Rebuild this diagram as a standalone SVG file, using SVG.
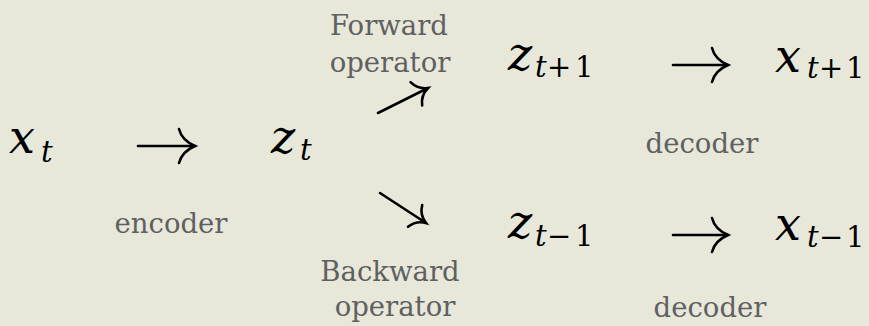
<svg xmlns="http://www.w3.org/2000/svg" width="869" height="326" viewBox="0 0 869 326">
<style>
.m{font-family:'DejaVu Serif',serif;font-style:italic;fill:#000;}
.big{font-size:46px;}
.sub{font-size:29px;}
.up{font-style:normal;}
.lbl{font-family:'DejaVu Serif',serif;font-size:27.5px;fill:#606060;}
.arr{fill:none;stroke:#000;stroke-width:2.6;stroke-linecap:round;}
</style>
<defs>
<marker id="head" markerUnits="userSpaceOnUse" refX="0" refY="0" markerWidth="40" markerHeight="40" orient="auto" overflow="visible">
<path d="M -16 -17 C -14 -9 -7 -3 0 0 C -7 3 -14 9 -16 17" fill="none" stroke="#000" stroke-width="2.6" stroke-linecap="round"/>
</marker>
<marker id="headS" markerUnits="userSpaceOnUse" refX="0" refY="0" markerWidth="40" markerHeight="40" orient="auto" overflow="visible">
<path d="M -13 -13 C -11 -7 -6 -2 0 0 C -6 2 -11 7 -13 13" fill="none" stroke="#000" stroke-width="2.6" stroke-linecap="round"/>
</marker>
</defs>
<rect width="869" height="326" fill="#e7e8da"/>
<g id="connectors">
<path class="arr" d="M 138 146 H 195" marker-end="url(#head)"/>
<path class="arr" d="M 378 113 L 428 88" marker-end="url(#headS)"/>
<path class="arr" d="M 380 193 L 426 223" marker-end="url(#headS)"/>
<path class="arr" d="M 673 65 H 728" marker-end="url(#head)"/>
<path class="arr" d="M 673 235 H 728" marker-end="url(#head)"/>
<text class="lbl" x="171" y="233" text-anchor="middle">encoder</text>
<text class="lbl" x="389" y="35" text-anchor="middle">Forward</text>
<text class="lbl" x="390" y="72" text-anchor="middle">operator</text>
<text class="lbl" x="390" y="281" text-anchor="middle">Backward</text>
<text class="lbl" x="395" y="316" text-anchor="middle">operator</text>
<text class="lbl" x="702" y="153" text-anchor="middle">decoder</text>
<text class="lbl" x="710" y="317" text-anchor="middle">decoder</text>
</g>
<g id="node-x-t">
<text class="m big" x="9" y="153">x</text>
<text class="m sub" x="41" y="162">t</text>
</g>
<g id="node-z-t">
<text class="m big" x="271" y="153">z</text>
<text class="m sub" x="300" y="160">t</text>
</g>
<g id="node-z-t1">
<text class="m big" x="508" y="70">z</text>
<text class="m sub" x="535" y="77">t</text>
<text class="m sub up" x="547" y="77">+</text>
<text class="m sub up" x="575" y="77">1</text>
</g>
<g id="node-x-t1">
<text class="m big" x="775" y="72">x</text>
<text class="m sub" x="807" y="78">t</text>
<text class="m sub up" x="819" y="78">+</text>
<text class="m sub up" x="846" y="78">1</text>
</g>
<g id="node-z-tm1">
<text class="m big" x="508" y="238">z</text>
<text class="m sub" x="535" y="246">t</text>
<text class="m sub up" x="547" y="246">−</text>
<text class="m sub up" x="575" y="246">1</text>
</g>
<g id="node-x-tm1">
<text class="m big" x="775" y="240">x</text>
<text class="m sub" x="807" y="247">t</text>
<text class="m sub up" x="819" y="247">−</text>
<text class="m sub up" x="846" y="247">1</text>
</g>
</svg>
